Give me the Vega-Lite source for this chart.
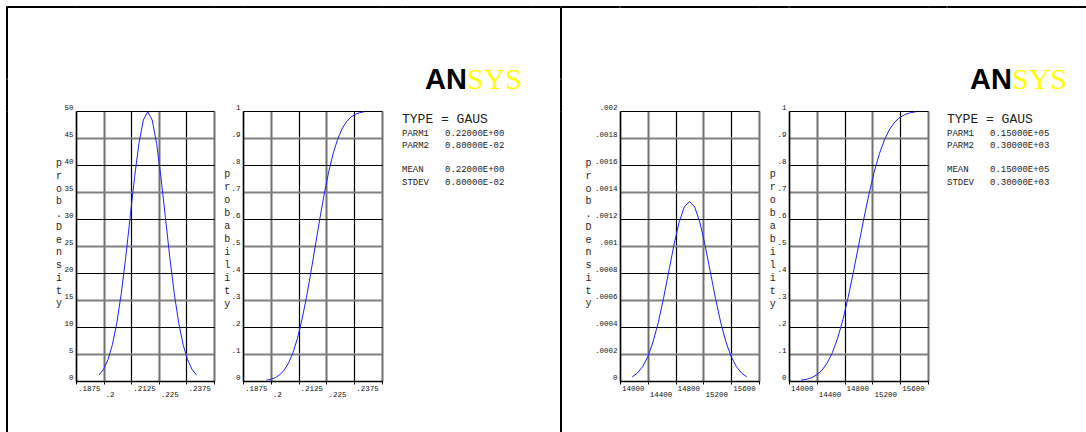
{
  "$schema": "https://vega.github.io/schema/vega-lite/v6.json",
  "padding": {"left": 5, "top": 5, "right": 0, "bottom": 0},
  "background": "white",
  "config": {
    "view": {"stroke": null},
    "axis": {"labelFont": "Liberation Mono", "labelFontSize": 7.5, "labelColor": "#111", "domainColor": "#000", "domainWidth": 1.5, "labelOverlap": false, "labelBound": false, "labelFlush": false, "titleFont": "Liberation Mono", "titleFontSize": 10, "titleFontWeight": "normal", "titleColor": "#222", "tickColor": "#000", "grid": true},
    "axisX": {"ticks": true, "tickSize": 3, "tickWidth": 1, "labelAlign": "left", "labelBaseline": "top", "labelOffset": 1.5},
    "axisY": {"ticks": false, "labelAlign": "right", "labelBaseline": "alphabetic", "labelOffset": -2, "labelPadding": 3, "titleAngle": 0, "titleAlign": "center", "titleBaseline": "top"}
  },
  "datasets": {
    "left": [
      {"x": 0.198, "pdf": 1.14, "cdf": 0.00298},
      {"x": 0.200, "pdf": 2.19, "cdf": 0.00621},
      {"x": 0.202, "pdf": 3.97, "cdf": 0.01222},
      {"x": 0.204, "pdf": 6.75, "cdf": 0.02275},
      {"x": 0.206, "pdf": 10.79, "cdf": 0.04006},
      {"x": 0.208, "pdf": 16.19, "cdf": 0.06681},
      {"x": 0.210, "pdf": 22.83, "cdf": 0.10565},
      {"x": 0.212, "pdf": 30.25, "cdf": 0.15866},
      {"x": 0.214, "pdf": 37.64, "cdf": 0.22663},
      {"x": 0.216, "pdf": 44.01, "cdf": 0.30854},
      {"x": 0.218, "pdf": 48.33, "cdf": 0.40129},
      {"x": 0.220, "pdf": 49.87, "cdf": 0.5},
      {"x": 0.222, "pdf": 48.33, "cdf": 0.59871},
      {"x": 0.224, "pdf": 44.01, "cdf": 0.69146},
      {"x": 0.226, "pdf": 37.64, "cdf": 0.77337},
      {"x": 0.228, "pdf": 30.25, "cdf": 0.84134},
      {"x": 0.230, "pdf": 22.83, "cdf": 0.89435},
      {"x": 0.232, "pdf": 16.19, "cdf": 0.93319},
      {"x": 0.234, "pdf": 10.79, "cdf": 0.95994},
      {"x": 0.236, "pdf": 6.75, "cdf": 0.97725},
      {"x": 0.238, "pdf": 3.97, "cdf": 0.98778},
      {"x": 0.240, "pdf": 2.19, "cdf": 0.99379},
      {"x": 0.242, "pdf": 1.14, "cdf": 0.99702}
    ],
    "right": [
      {"x": 14175, "pdf": 0.0000303, "cdf": 0.00298},
      {"x": 14250, "pdf": 0.0000584, "cdf": 0.00621},
      {"x": 14325, "pdf": 0.000106, "cdf": 0.01222},
      {"x": 14400, "pdf": 0.00018, "cdf": 0.02275},
      {"x": 14475, "pdf": 0.000288, "cdf": 0.04006},
      {"x": 14550, "pdf": 0.000432, "cdf": 0.06681},
      {"x": 14625, "pdf": 0.000609, "cdf": 0.10565},
      {"x": 14700, "pdf": 0.000807, "cdf": 0.15866},
      {"x": 14775, "pdf": 0.001004, "cdf": 0.22663},
      {"x": 14850, "pdf": 0.001174, "cdf": 0.30854},
      {"x": 14925, "pdf": 0.001289, "cdf": 0.40129},
      {"x": 15000, "pdf": 0.00133, "cdf": 0.5},
      {"x": 15075, "pdf": 0.001289, "cdf": 0.59871},
      {"x": 15150, "pdf": 0.001174, "cdf": 0.69146},
      {"x": 15225, "pdf": 0.001004, "cdf": 0.77337},
      {"x": 15300, "pdf": 0.000807, "cdf": 0.84134},
      {"x": 15375, "pdf": 0.000609, "cdf": 0.89435},
      {"x": 15450, "pdf": 0.000432, "cdf": 0.93319},
      {"x": 15525, "pdf": 0.000288, "cdf": 0.95994},
      {"x": 15600, "pdf": 0.00018, "cdf": 0.97725},
      {"x": 15675, "pdf": 0.000106, "cdf": 0.98778},
      {"x": 15750, "pdf": 0.0000584, "cdf": 0.99379},
      {"x": 15825, "pdf": 0.0000303, "cdf": 0.99702}
    ],
    "leftInfo": [
      {"line": 0, "col": "key", "text": "TYPE = GAUS"},
      {"line": 1, "col": "key", "text": "PARM1"},
      {"line": 1, "col": "value", "text": "0.22000E+00"},
      {"line": 2, "col": "key", "text": "PARM2"},
      {"line": 2, "col": "value", "text": "0.80000E-02"},
      {"line": 4, "col": "key", "text": "MEAN"},
      {"line": 4, "col": "value", "text": "0.22000E+00"},
      {"line": 5, "col": "key", "text": "STDEV"},
      {"line": 5, "col": "value", "text": "0.80000E-02"}
    ],
    "rightInfo": [
      {"line": 0, "col": "key", "text": "TYPE = GAUS"},
      {"line": 1, "col": "key", "text": "PARM1"},
      {"line": 1, "col": "value", "text": "0.15000E+05"},
      {"line": 2, "col": "key", "text": "PARM2"},
      {"line": 2, "col": "value", "text": "0.30000E+03"},
      {"line": 4, "col": "key", "text": "MEAN"},
      {"line": 4, "col": "value", "text": "0.15000E+05"},
      {"line": 5, "col": "key", "text": "STDEV"},
      {"line": 5, "col": "value", "text": "0.30000E+03"}
    ],
    "logo": [{"a": "AN", "b": "SYS"}],
    "none": []
  },
  "columns": 16,
  "spacing": 0,
  "bounds": "flush",
  "align": "each",
  "concat": [
    {"width": 1, "height": 1, "data": {"name": "none"}, "mark": "point", "view": {"stroke": "#000", "strokeWidth": 1}},
    {"width": 69, "height": 1, "data": {"name": "none"}, "mark": "point", "view": {"stroke": "#000", "strokeWidth": 1}},
    {"width": 138, "height": 1, "data": {"name": "none"}, "mark": "point", "view": {"stroke": "#000", "strokeWidth": 1}},
    {"width": 29, "height": 1, "data": {"name": "none"}, "mark": "point", "view": {"stroke": "#000", "strokeWidth": 1}},
    {"width": 139, "height": 1, "data": {"name": "none"}, "mark": "point", "view": {"stroke": "#000", "strokeWidth": 1}},
    {"width": 20, "height": 1, "data": {"name": "none"}, "mark": "point", "view": {"stroke": "#000", "strokeWidth": 1}},
    {"width": 130, "height": 1, "data": {"name": "none"}, "mark": "point", "view": {"stroke": "#000", "strokeWidth": 1}},
    {"width": 27.5, "height": 1, "data": {"name": "none"}, "mark": "point", "view": {"stroke": "#000", "strokeWidth": 1}},
    {"width": 1, "height": 1, "data": {"name": "none"}, "mark": "point", "view": {"stroke": "#000", "strokeWidth": 1}},
    {"width": 58.2, "height": 1, "data": {"name": "none"}, "mark": "point", "view": {"stroke": "#000", "strokeWidth": 1}},
    {"width": 139, "height": 1, "data": {"name": "none"}, "mark": "point", "view": {"stroke": "#000", "strokeWidth": 1}},
    {"width": 29.3, "height": 1, "data": {"name": "none"}, "mark": "point", "view": {"stroke": "#000", "strokeWidth": 1}},
    {"width": 139, "height": 1, "data": {"name": "none"}, "mark": "point", "view": {"stroke": "#000", "strokeWidth": 1}},
    {"width": 18.3, "height": 1, "data": {"name": "none"}, "mark": "point", "view": {"stroke": "#000", "strokeWidth": 1}},
    {"width": 130, "height": 1, "data": {"name": "none"}, "mark": "point", "view": {"stroke": "#000", "strokeWidth": 1}},
    {"width": 12.7, "height": 1, "data": {"name": "none"}, "mark": "point", "view": {"stroke": "#000", "strokeWidth": 1}},

    {"width": 1, "height": 71.3, "data": {"name": "none"}, "mark": "point", "view": {"stroke": "#000", "strokeWidth": 1}},
    {"width": 1, "height": 1, "data": {"name": "none"}, "mark": "point"},
    {"width": 1, "height": 1, "data": {"name": "none"}, "mark": "point"},
    {"width": 1, "height": 1, "data": {"name": "none"}, "mark": "point"},
    {"width": 1, "height": 1, "data": {"name": "none"}, "mark": "point"},
    {"width": 1, "height": 1, "data": {"name": "none"}, "mark": "point"},
    {"width": 1, "height": 1, "data": {"name": "none"}, "mark": "point"},
    {"width": 1, "height": 1, "data": {"name": "none"}, "mark": "point"},
    {"width": 1, "height": 71.3, "data": {"name": "none"}, "mark": "point", "view": {"stroke": "#000", "strokeWidth": 1}},
    {"width": 1, "height": 1, "data": {"name": "none"}, "mark": "point"},
    {"width": 1, "height": 1, "data": {"name": "none"}, "mark": "point"},
    {"width": 1, "height": 1, "data": {"name": "none"}, "mark": "point"},
    {"width": 1, "height": 1, "data": {"name": "none"}, "mark": "point"},
    {"width": 1, "height": 1, "data": {"name": "none"}, "mark": "point"},
    {"width": 1, "height": 1, "data": {"name": "none"}, "mark": "point"},
    {"width": 1, "height": 1, "data": {"name": "none"}, "mark": "point"},

    {"width": 1, "height": 31.7, "data": {"name": "none"}, "mark": "point", "view": {"stroke": "#000", "strokeWidth": 1}},
    {"width": 1, "height": 1, "data": {"name": "none"}, "mark": "point"},
    {"width": 1, "height": 1, "data": {"name": "none"}, "mark": "point"},
    {"width": 1, "height": 1, "data": {"name": "none"}, "mark": "point"},
    {"width": 1, "height": 1, "data": {"name": "none"}, "mark": "point"},
    {"width": 1, "height": 1, "data": {"name": "none"}, "mark": "point"},
    {
      "width": 130, "height": 20,
      "data": {"name": "logo"},
      "layer": [
        {"mark": {"type": "text", "align": "right", "baseline": "alphabetic", "font": "Liberation Sans", "fontWeight": "bold", "fontSize": 29, "color": "#000"}, "encoding": {"text": {"field": "a"}}},
        {"mark": {"type": "text", "align": "left", "baseline": "alphabetic", "font": "Liberation Serif", "fontSize": 30, "color": "#ffff00"}, "encoding": {"text": {"field": "b"}}}
      ]
    },
    {"width": 1, "height": 1, "data": {"name": "none"}, "mark": "point"},
    {"width": 1, "height": 31.7, "data": {"name": "none"}, "mark": "point", "view": {"stroke": "#000", "strokeWidth": 1}},
    {"width": 1, "height": 1, "data": {"name": "none"}, "mark": "point"},
    {"width": 1, "height": 1, "data": {"name": "none"}, "mark": "point"},
    {"width": 1, "height": 1, "data": {"name": "none"}, "mark": "point"},
    {"width": 1, "height": 1, "data": {"name": "none"}, "mark": "point"},
    {"width": 1, "height": 1, "data": {"name": "none"}, "mark": "point"},
    {
      "width": 130, "height": 20,
      "data": {"name": "logo"},
      "layer": [
        {"mark": {"type": "text", "align": "right", "baseline": "alphabetic", "font": "Liberation Sans", "fontWeight": "bold", "fontSize": 29, "color": "#000"}, "encoding": {"text": {"field": "a"}}},
        {"mark": {"type": "text", "align": "left", "baseline": "alphabetic", "font": "Liberation Serif", "fontSize": 30, "color": "#ffff00"}, "encoding": {"text": {"field": "b"}}}
      ]
    },
    {"width": 1, "height": 1, "data": {"name": "none"}, "mark": "point"},

    {"width": 1, "height": 323, "data": {"name": "none"}, "mark": "point", "view": {"stroke": "#000", "strokeWidth": 1}},
    {"width": 1, "height": 1, "data": {"name": "none"}, "mark": "point"},
    {
      "width": 138, "height": 270,
      "data": {"name": "left"},
      "mark": {"type": "line", "color": "#2020ff", "strokeWidth": 1},
      "encoding": {
        "x": {"field": "x", "type": "quantitative", "scale": {"domain": [0.1875, 0.25], "nice": false, "zero": false},
          "axis": {"title": null, "values": [0.1875, 0.2, 0.2125, 0.225, 0.2375, 0.25],
            "labelExpr": "datum.value >= 0.25 ? '' : replace(toString(datum.value), '0.', '.')",
            "labelPadding": {"condition": {"test": "datum.value == 0.2 || datum.value == 0.225", "value": 6.5}, "value": 0},
            "gridColor": {"condition": {"test": "round((datum.value - 0.1875) / 0.0125) % 2 == 1", "value": "#707070"}, "value": "#000"},
            "gridWidth": {"condition": {"test": "round((datum.value - 0.1875) / 0.0125) % 2 == 1", "value": 2}, "value": 1.2}}},
        "y": {"field": "pdf", "type": "quantitative", "scale": {"domain": [0, 50], "nice": false},
          "axis": {"values": [0, 5, 10, 15, 20, 25, 30, 35, 40, 45, 50],
            "title": ["p", "r", "o", "b", ".", " ", "D", "e", "n", "s", "i", "t", "y"],
            "titleX": -17.5, "titleY": 46.6, "titleLineHeight": 12.75,
            "gridColor": {"condition": {"test": "round(datum.value / 5) % 2 == 1", "value": "#808080"}, "value": "#000"},
            "gridWidth": {"condition": {"test": "round(datum.value / 5) % 2 == 1", "value": 2}, "value": 1.2}}}
      }
    },
    {"width": 1, "height": 1, "data": {"name": "none"}, "mark": "point"},
    {
      "width": 139, "height": 270,
      "data": {"name": "left"},
      "mark": {"type": "line", "color": "#2020ff", "strokeWidth": 1},
      "encoding": {
        "x": {"field": "x", "type": "quantitative", "scale": {"domain": [0.1875, 0.25], "nice": false, "zero": false},
          "axis": {"title": null, "values": [0.1875, 0.2, 0.2125, 0.225, 0.2375, 0.25],
            "labelExpr": "datum.value >= 0.25 ? '' : replace(toString(datum.value), '0.', '.')",
            "labelPadding": {"condition": {"test": "datum.value == 0.2 || datum.value == 0.225", "value": 6.5}, "value": 0},
            "gridColor": {"condition": {"test": "round((datum.value - 0.1875) / 0.0125) % 2 == 1", "value": "#707070"}, "value": "#000"},
            "gridWidth": {"condition": {"test": "round((datum.value - 0.1875) / 0.0125) % 2 == 1", "value": 2}, "value": 1.2}}},
        "y": {"field": "cdf", "type": "quantitative", "scale": {"domain": [0, 1], "nice": false},
          "axis": {"values": [0, 0.1, 0.2, 0.3, 0.4, 0.5, 0.6, 0.7, 0.8, 0.9, 1],
            "labelExpr": "replace(toString(datum.value), '0.', '.')",
            "title": ["p", "r", "o", "b", "a", "b", "i", "l", "i", "t", "y"],
            "titleX": -16.3, "titleY": 57.6, "titleLineHeight": 13,
            "gridColor": {"condition": {"test": "round(datum.value * 10) % 2 == 1", "value": "#808080"}, "value": "#000"},
            "gridWidth": {"condition": {"test": "round(datum.value * 10) % 2 == 1", "value": 2}, "value": 1.2}}}
      }
    },
    {"width": 1, "height": 1, "data": {"name": "none"}, "mark": "point"},
    {
      "width": 43, "height": 85.8,
      "data": {"name": "leftInfo"},
      "mark": {"type": "text", "align": "left", "baseline": "alphabetic", "font": "Liberation Mono", "color": "#222"},
      "encoding": {
        "x": {"field": "col", "type": "nominal", "scale": {"type": "point", "domain": ["key", "value"], "padding": 0}, "axis": null},
        "y": {"field": "line", "type": "ordinal", "scale": {"type": "point", "domain": [0, 1, 2, 3, 4, 5], "padding": 1.1}, "axis": null},
        "text": {"field": "text"},
        "size": {"condition": {"test": "datum.line == 0", "value": 13}, "value": 9}
      }
    },
    {"width": 1, "height": 1, "data": {"name": "none"}, "mark": "point"},
    {"width": 1, "height": 323, "data": {"name": "none"}, "mark": "point", "view": {"stroke": "#000", "strokeWidth": 1}},
    {"width": 1, "height": 1, "data": {"name": "none"}, "mark": "point"},
    {
      "width": 139, "height": 270,
      "data": {"name": "right"},
      "mark": {"type": "line", "color": "#2020ff", "strokeWidth": 1},
      "encoding": {
        "x": {"field": "x", "type": "quantitative", "scale": {"domain": [14000, 16000], "nice": false, "zero": false},
          "axis": {"title": null, "values": [14000, 14400, 14800, 15200, 15600, 16000],
            "labelExpr": "datum.value >= 16000 ? '' : toString(datum.value)",
            "labelPadding": {"condition": {"test": "datum.value == 14400 || datum.value == 15200", "value": 6.5}, "value": 0},
            "gridColor": {"condition": {"test": "round((datum.value - 14000) / 400) % 2 == 1", "value": "#707070"}, "value": "#000"},
            "gridWidth": {"condition": {"test": "round((datum.value - 14000) / 400) % 2 == 1", "value": 2}, "value": 1.2}}},
        "y": {"field": "pdf", "type": "quantitative", "scale": {"domain": [0, 0.002], "nice": false},
          "axis": {"values": [0, 0.0002, 0.0004, 0.0006, 0.0008, 0.001, 0.0012, 0.0014, 0.0016, 0.0018, 0.002],
            "labelExpr": "replace(toString(datum.value), '0.', '.')",
            "title": ["p", "r", "o", "b", ".", " ", "D", "e", "n", "s", "i", "t", "y"],
            "titleX": -32, "titleY": 46.6, "titleLineHeight": 12.75,
            "gridColor": {"condition": {"test": "round(datum.value / 0.0002) % 2 == 1", "value": "#808080"}, "value": "#000"},
            "gridWidth": {"condition": {"test": "round(datum.value / 0.0002) % 2 == 1", "value": 2}, "value": 1.2}}}
      }
    },
    {"width": 1, "height": 1, "data": {"name": "none"}, "mark": "point"},
    {
      "width": 139, "height": 270,
      "data": {"name": "right"},
      "mark": {"type": "line", "color": "#2020ff", "strokeWidth": 1},
      "encoding": {
        "x": {"field": "x", "type": "quantitative", "scale": {"domain": [14000, 16000], "nice": false, "zero": false},
          "axis": {"title": null, "values": [14000, 14400, 14800, 15200, 15600, 16000],
            "labelExpr": "datum.value >= 16000 ? '' : toString(datum.value)",
            "labelPadding": {"condition": {"test": "datum.value == 14400 || datum.value == 15200", "value": 6.5}, "value": 0},
            "gridColor": {"condition": {"test": "round((datum.value - 14000) / 400) % 2 == 1", "value": "#707070"}, "value": "#000"},
            "gridWidth": {"condition": {"test": "round((datum.value - 14000) / 400) % 2 == 1", "value": 2}, "value": 1.2}}},
        "y": {"field": "cdf", "type": "quantitative", "scale": {"domain": [0, 1], "nice": false},
          "axis": {"values": [0, 0.1, 0.2, 0.3, 0.4, 0.5, 0.6, 0.7, 0.8, 0.9, 1],
            "labelExpr": "replace(toString(datum.value), '0.', '.')",
            "title": ["p", "r", "o", "b", "a", "b", "i", "l", "i", "t", "y"],
            "titleX": -16.8, "titleY": 57.6, "titleLineHeight": 13,
            "gridColor": {"condition": {"test": "round(datum.value * 10) % 2 == 1", "value": "#808080"}, "value": "#000"},
            "gridWidth": {"condition": {"test": "round(datum.value * 10) % 2 == 1", "value": 2}, "value": 1.2}}}
      }
    },
    {"width": 1, "height": 1, "data": {"name": "none"}, "mark": "point"},
    {
      "width": 43, "height": 85.8,
      "data": {"name": "rightInfo"},
      "mark": {"type": "text", "align": "left", "baseline": "alphabetic", "font": "Liberation Mono", "color": "#222"},
      "encoding": {
        "x": {"field": "col", "type": "nominal", "scale": {"type": "point", "domain": ["key", "value"], "padding": 0}, "axis": null},
        "y": {"field": "line", "type": "ordinal", "scale": {"type": "point", "domain": [0, 1, 2, 3, 4, 5], "padding": 1.1}, "axis": null},
        "text": {"field": "text"},
        "size": {"condition": {"test": "datum.line == 0", "value": 13}, "value": 9}
      }
    },
    {"width": 1, "height": 1, "data": {"name": "none"}, "mark": "point"}
  ]
}
